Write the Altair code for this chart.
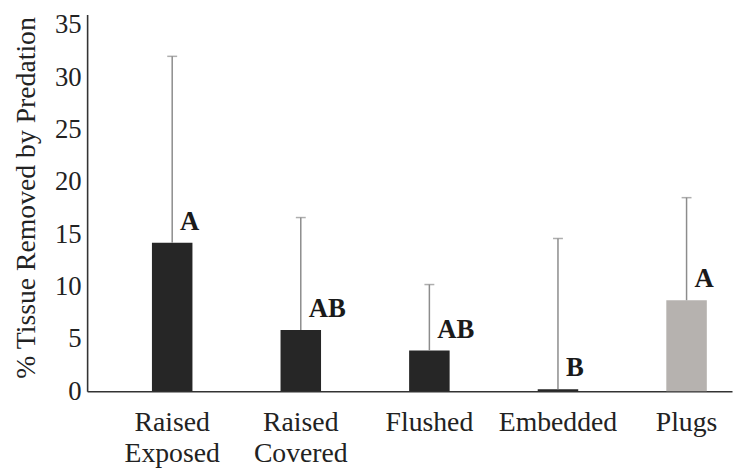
import altair as alt
import pandas as pd

categories = ["Raised\nExposed", "Raised\nCovered", "Flushed", "Embedded", "Plugs"]
means = [14.2, 5.85, 3.9, 0.2, 8.7]
upper = [32.0, 16.6, 10.2, 14.6, 18.5]
letters = ["A", "AB", "AB", "B", "A"]
groups = ["field", "field", "field", "field", "plug"]

df = pd.DataFrame({"cat": categories, "mean": means, "upper": upper,
                   "letter": letters, "group": groups})

FONT = "Liberation Serif"

x = alt.X("cat:N", sort=categories,
          scale=alt.Scale(paddingInner=0.685, paddingOuter=0.35, align=0.72),
          axis=alt.Axis(title=None, labelAngle=0, labelPadding=18, labelLineHeight=31,
                        labelFont=FONT, labelFontSize=28, grid=False,
                        labelExpr="split(datum.label, '\\n')", ticks=False))
yscale = alt.Scale(domain=[0, 36], nice=False)

bars = alt.Chart(df).mark_bar(stroke=None).encode(
    x=x,
    y=alt.Y("mean:Q", scale=yscale,
            axis=alt.Axis(title="% Tissue Removed by Predation", values=[0, 5, 10, 15, 20, 25, 30, 35],
                          grid=False, ticks=False, labelPadding=6, titlePadding=14,
                          titleY=185, labelFont=FONT, labelFontSize=27,
                          titleFont=FONT, titleFontSize=28)),
    color=alt.Color("group:N", scale=alt.Scale(domain=["field", "plug"],
                                               range=["#262626", "#b6b2af"]), legend=None),
)

err = alt.Chart(df).mark_rule(color="#8c8c8c", strokeWidth=1.5).encode(
    x=alt.X("cat:N", sort=categories), y=alt.Y("mean:Q"), y2="upper:Q")

caps = alt.Chart(df).mark_tick(color="#8c8c8c", thickness=1.5, size=10, orient="horizontal").encode(
    x=alt.X("cat:N", sort=categories), y=alt.Y("upper:Q"))

text = alt.Chart(df).mark_text(font=FONT, fontSize=27, fontWeight="bold", color="#1a1a1a",
                               align="left", baseline="bottom", dx=8, dy=-7).encode(
    x=alt.X("cat:N", sort=categories), y=alt.Y("mean:Q"), text="letter:N")

chart = alt.layer(bars, err, caps, text).properties(
    width=652, height=381,
    autosize=alt.AutoSizeParams(type="none"),
    padding={"left": 80, "top": 4, "right": 2, "bottom": 76},
    view=alt.ViewBackground(stroke="transparent", strokeWidth=0),
).configure_view(stroke="transparent", strokeWidth=0).configure(
    background="white", font=FONT
).configure_axis(
    labelColor="#222", titleFontWeight="normal", titleColor="#222",
    domainColor="#333", domainWidth=1.6, grid=False, ticks=False,
)

chart.save("out.html", embed_options={"renderer": "svg", "actions": False})
